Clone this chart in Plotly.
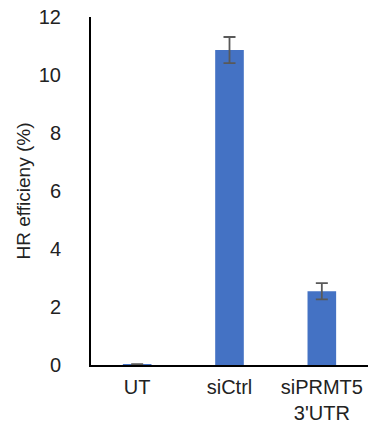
import plotly.graph_objects as go

categories = ["UT", "siCtrl", "siPRMT5<br>3'UTR"]
values = [0.01, 10.86, 2.54]
errors = [0.02, 0.45, 0.28]
y_ticks = [0, 2, 4, 6, 8, 10, 12]

fig = go.Figure()
fig.add_trace(go.Bar(
    x=categories, y=values,
    marker=dict(color="#4472C4", line=dict(width=0)),
    width=0.31,
    error_y=dict(type="data", array=errors, visible=True,
                 color="#595959", thickness=1.8, width=6),
))

fig.update_layout(
    width=370, height=424,
    margin=dict(l=91, r=2, t=17, b=59),
    plot_bgcolor="white", paper_bgcolor="white",
    showlegend=False,
    font=dict(family="Liberation Sans, Arial, sans-serif", size=20, color="#222222"),
    xaxis=dict(
        showline=True, linecolor="black", linewidth=2,
        ticks="", showgrid=False, zeroline=False, automargin=False,
        tickfont=dict(size=20), ticklabelstandoff=3,
    ),
    yaxis=dict(
        range=[0, 12], tickvals=y_ticks,
        showline=True, linecolor="black", linewidth=2,
        ticks="", showgrid=False, zeroline=False, automargin=False,
        tickfont=dict(size=20), ticklabelstandoff=24,
        title=dict(text="HR efficieny (%)", font=dict(size=19), standoff=3),
    ),
)

fig.write_html("out.html")
